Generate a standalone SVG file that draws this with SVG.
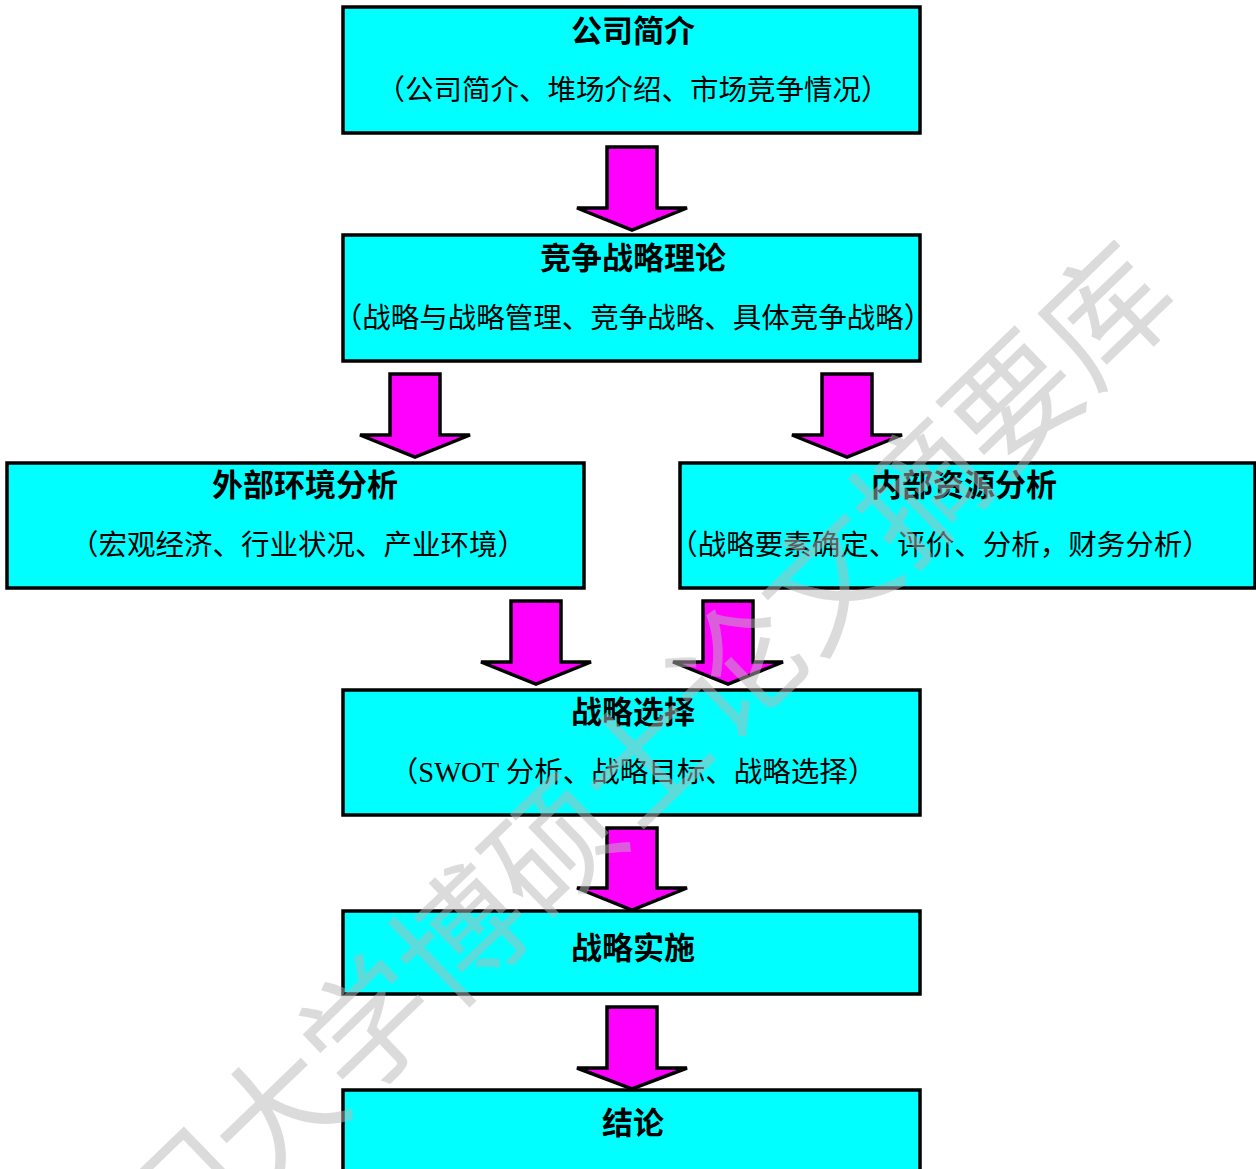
<svg xmlns="http://www.w3.org/2000/svg" width="1256" height="1169" viewBox="0 0 1256 1169">
<style>
.box{fill:#00ffff;stroke:#000;stroke-width:3.5}
.arr{fill:#ff00ff;stroke:#000;stroke-width:3.5;stroke-linejoin:miter}
.t{font-family:"Noto Sans CJK SC","Liberation Sans",sans-serif;font-weight:700;font-size:31px;fill:#000;text-anchor:middle}
.s{font-family:"Liberation Serif","Noto Sans CJK SC",serif;font-size:28.5px;fill:#000;text-anchor:middle}
.wm{font-family:"Noto Sans CJK SC",sans-serif;font-size:128px;fill:#b9b9b9;opacity:0.5;text-anchor:middle;dominant-baseline:central}
</style>
<rect width="1256" height="1169" fill="#fff"/>
<g id="connectors">
<polygon class="arr" points="607,147 657,147 657,208 687,208 632,230 577,208 607,208"/>
<polygon class="arr" points="390,374 440,374 440,435 470,435 415,457 360,435 390,435"/>
<polygon class="arr" points="822,374 872,374 872,435 902,435 847,457 792,435 822,435"/>
<polygon class="arr" points="511,601 561,601 561,662 591,662 536,684 481,662 511,662"/>
<polygon class="arr" points="703,601 753,601 753,662 783,662 728,684 673,662 703,662"/>
<polygon class="arr" points="607,828 657,828 657,888 687,888 632,910 577,888 607,888"/>
<polygon class="arr" points="607,1007 657,1007 657,1068 687,1068 632,1089 577,1068 607,1068"/>
</g>
<g id="node-intro">
<rect class="box" x="343" y="7" width="577" height="126"/>
<text class="t" x="633" y="42">公司简介</text>
<text class="s" x="633" y="100">（公司简介、堆场介绍、市场竞争情况）</text>
</g>
<g id="node-theory">
<rect class="box" x="343" y="235" width="577" height="126"/>
<text class="t" x="633" y="269">竞争战略理论</text>
<text class="s" x="633" y="328">（战略与战略管理、竞争战略、具体竞争战略）</text>
</g>
<g id="node-external">
<rect class="box" x="7" y="463" width="577" height="125"/>
<text class="t" x="305" y="496">外部环境分析</text>
<text class="s" x="298" y="555">（宏观经济、行业状况、产业环境）</text>
</g>
<g id="node-internal">
<rect class="box" x="680" y="463" width="575" height="125"/>
<text class="t" x="964" y="496">内部资源分析</text>
<text class="s" x="940" y="555">（战略要素确定、评价、分析，财务分析）</text>
</g>
<g id="node-choice">
<rect class="box" x="343" y="690" width="577" height="125"/>
<text class="t" x="633" y="723">战略选择</text>
<text class="s" x="633" y="782">（SWOT 分析、战略目标、战略选择）</text>
</g>
<g id="node-impl">
<rect class="box" x="343" y="911" width="577" height="83"/>
<text class="t" x="633" y="959">战略实施</text>
</g>
<g id="node-conclusion">
<rect class="box" x="343" y="1090" width="577" height="90"/>
<text class="t" x="633" y="1134">结论</text>
</g>
<text class="wm" transform="translate(593,797) rotate(-44)">厦门大学博硕士论文摘要库</text>
</svg>
